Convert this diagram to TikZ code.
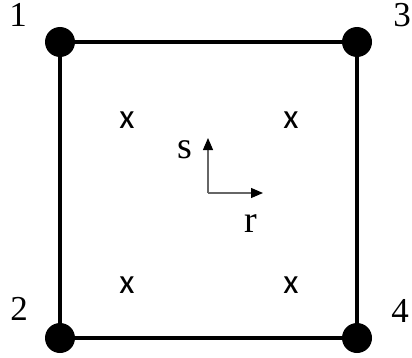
\documentclass[tikz,border=0pt]{standalone}
\usepackage{fontspec}
\setmainfont{Liberation Serif}
\newfontfamily\gaussfont{Carlito}
\usetikzlibrary{arrows.meta}
\begin{document}
\begin{tikzpicture}[x=1pt,y=1pt,
  corner/.style={circle,fill=black,inner sep=0pt,minimum size=30pt},
  numlab/.style={anchor=base,inner sep=0pt,font=\fontsize{35}{40}\selectfont},
  gauss/.style={anchor=base,inner sep=0pt,font=\gaussfont\fontsize{35}{40}\selectfont},
  axis/.style={-{Triangle[length=12pt,width=10pt,color=black]},line width=1.3pt,black!60}]
  \useasboundingbox (0,0) rectangle (412,357);
  % corner nodes and their numbers
  \foreach \n/\px/\py/\lx/\ly in {1/60/315/18/330, 3/357/315/402/330, 2/60/19/19/37, 4/357/19/400/35} {
    \node[corner] (c\n) at (\px,\py) {};
    \node[numlab] (l\n) at (\lx,\ly) {\n};
  }
  \draw[line width=4.5pt] (c1) -- (c3) -- (c4) -- (c2) -- (c1);
  % integration points
  \foreach \k/\gx/\gy in {a/127/229, b/291/229, c/127/64, d/291/64}
    \node[gauss] (g\k) at (\gx,\gy) {x};
  % local axes
  \coordinate (o) at (208,164);
  \coordinate (stip) at (208,219);
  \coordinate (rtip) at (263,164);
  \draw[axis] (o) -- (stip);
  \draw[axis] (o) -- (rtip);
  \node[numlab,font=\fontsize{38}{42}\selectfont] (s) at (185,199) {s};
  \node[numlab,font=\fontsize{38}{42}\selectfont] (r) at (251,125) {r};
\end{tikzpicture}
\end{document}
